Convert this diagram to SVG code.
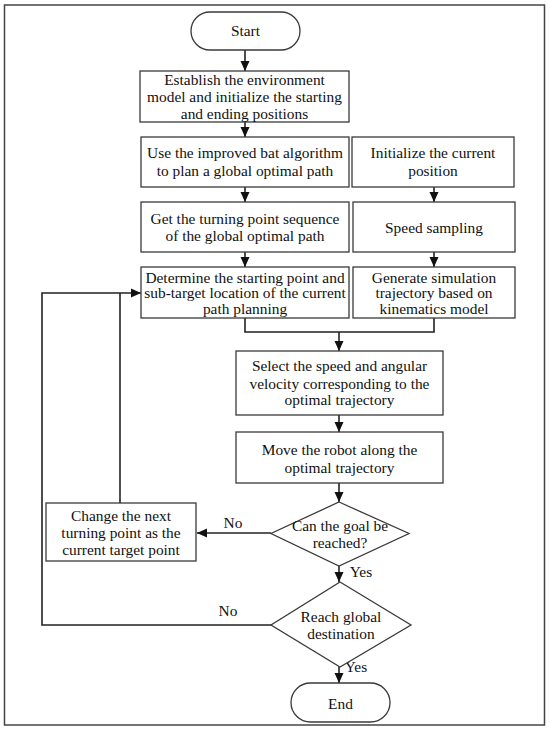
<svg xmlns="http://www.w3.org/2000/svg" width="550" height="730" viewBox="0 0 550 730">
<style>
.b{fill:#fff;stroke:#3a3a3a;stroke-width:1.3}
.t{font-family:"Liberation Serif","Times New Roman",serif;font-size:15.4px;fill:#111;text-anchor:middle}
.c{fill:none;stroke:#222;stroke-width:1.6}
</style>
<defs>
<marker id="ah" markerUnits="userSpaceOnUse" markerWidth="10" markerHeight="10" viewBox="0 0 10 10" refX="10" refY="5" orient="auto">
<path d="M0,0.5 L10,5 L0,9.5 Z" fill="#111"/>
</marker>
</defs>
<rect x="4.5" y="5" width="540" height="720" fill="#fff" stroke="#444" stroke-width="1.5"/>
<g id="connectors">
<path class="c" d="M245,50 V71" marker-end="url(#ah)"/>
<path class="c" d="M245,122 V137" marker-end="url(#ah)"/>
<path class="c" d="M245,187 V202" marker-end="url(#ah)"/>
<path class="c" d="M245,252 V267" marker-end="url(#ah)"/>
<path class="c" d="M434,187 V202" marker-end="url(#ah)"/>
<path class="c" d="M434,252 V267" marker-end="url(#ah)"/>
<path class="c" d="M245,318 V332 H434 V318"/>
<path class="c" d="M339,332 V351" marker-end="url(#ah)"/>
<path class="c" d="M339,415 V432" marker-end="url(#ah)"/>
<path class="c" d="M339,483 V502" marker-end="url(#ah)"/>
<path class="c" d="M339,566 V582" marker-end="url(#ah)"/>
<path class="c" d="M339,667 V683" marker-end="url(#ah)"/>
<path class="c" d="M271,533 H197" marker-end="url(#ah)"/>
<path class="c" d="M120,503 V293"/>
<path class="c" d="M271,625 H42 V293 H141" marker-end="url(#ah)"/>
<text class="t" x="233" y="528">No</text>
<text class="t" x="228" y="616">No</text>
<text class="t" x="361" y="577">Yes</text>
<text class="t" x="356" y="672">Yes</text>
</g>
<g id="start">
<rect class="b" x="191" y="12" width="109" height="38" rx="19"/>
<text class="t" x="245.5" y="36">Start</text>
</g>
<g id="establish">
<rect class="b" x="140" y="71" width="209" height="51"/>
<text class="t" x="244.5" y="85">Establish the environment</text>
<text class="t" x="244.5" y="102">model and initialize the starting</text>
<text class="t" x="244.5" y="118.5">and ending positions</text>
</g>
<g id="bat">
<rect class="b" x="141" y="137" width="208" height="50"/>
<text class="t" x="245" y="157.5">Use the improved bat algorithm</text>
<text class="t" x="245" y="175.5">to plan a global optimal path</text>
</g>
<g id="init">
<rect class="b" x="352" y="137" width="162" height="50"/>
<text class="t" x="433" y="157.5">Initialize the current</text>
<text class="t" x="433" y="175.5">position</text>
</g>
<g id="turning">
<rect class="b" x="141" y="202" width="208" height="50"/>
<text class="t" x="245" y="223.5">Get the turning point sequence</text>
<text class="t" x="245" y="240.5">of the global optimal path</text>
</g>
<g id="speed">
<rect class="b" x="353" y="202" width="162" height="50"/>
<text class="t" x="434" y="232.5">Speed sampling</text>
</g>
<g id="determine">
<rect class="b" x="141" y="267" width="208" height="51"/>
<text class="t" x="245" y="282.5">Determine the starting point and</text>
<text class="t" x="245" y="298">sub-target location of the current</text>
<text class="t" x="245" y="313.5">path planning</text>
</g>
<g id="generate">
<rect class="b" x="353" y="267" width="162" height="51"/>
<text class="t" x="434" y="282.5">Generate simulation</text>
<text class="t" x="434" y="298">trajectory based on</text>
<text class="t" x="434" y="313.5">kinematics model</text>
</g>
<g id="select">
<rect class="b" x="236" y="351" width="207" height="64"/>
<text class="t" x="339.5" y="370.5">Select the speed and angular</text>
<text class="t" x="339.5" y="388.5">velocity corresponding to the</text>
<text class="t" x="339.5" y="405">optimal trajectory</text>
</g>
<g id="move">
<rect class="b" x="236" y="432" width="207" height="51"/>
<text class="t" x="339.5" y="454.5">Move the robot along the</text>
<text class="t" x="339.5" y="472.5">optimal trajectory</text>
</g>
<g id="goal">
<polygon class="b" points="339,502 409,533.5 339,566 271,533.5"/>
<text class="t" x="340" y="530.5">Can the goal be</text>
<text class="t" x="340" y="547.5">reached?</text>
</g>
<g id="change">
<rect class="b" x="46" y="503" width="150" height="58"/>
<text class="t" x="121" y="520.5">Change the next</text>
<text class="t" x="121" y="537.5">turning point as the</text>
<text class="t" x="121" y="554.5">current target point</text>
</g>
<g id="global">
<polygon class="b" points="340,582 411,625 340,667 271,625"/>
<text class="t" x="341" y="621.5">Reach global</text>
<text class="t" x="341" y="638.5">destination</text>
</g>
<g id="end">
<rect class="b" x="291" y="683" width="99" height="39" rx="19.5"/>
<text class="t" x="340.5" y="708.5">End</text>
</g>
</svg>
